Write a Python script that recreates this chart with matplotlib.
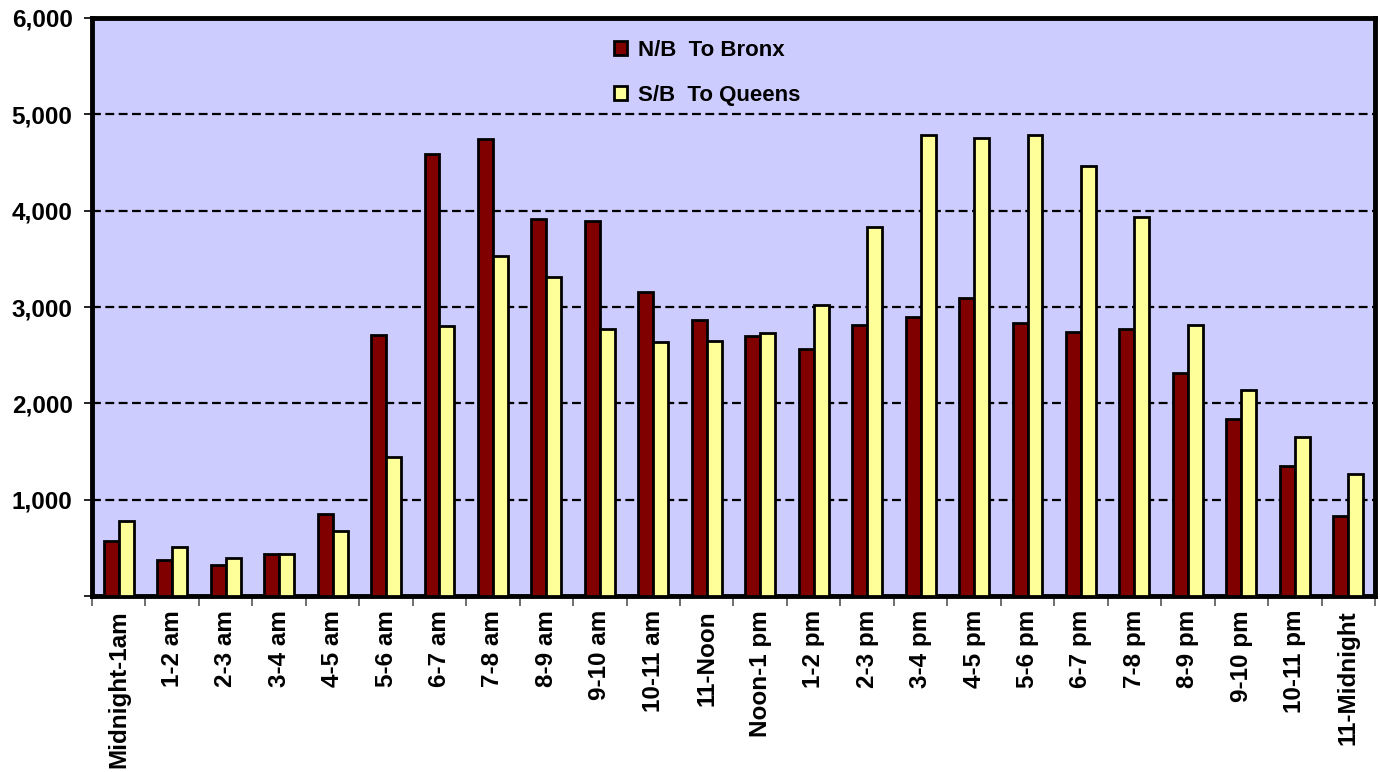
import numpy as np
import matplotlib.pyplot as plt
from matplotlib.ticker import FixedLocator

hours = ["Midnight-1am", "1-2 am", "2-3 am", "3-4 am", "4-5 am", "5-6 am",
         "6-7 am", "7-8 am", "8-9 am", "9-10 am", "10-11 am", "11-Noon",
         "Noon-1 pm", "1-2 pm", "2-3 pm", "3-4 pm", "4-5 pm", "5-6 pm",
         "6-7 pm", "7-8 pm", "8-9 pm", "9-10 pm", "10-11 pm", "11-Midnight"]

# N/B To Bronx
nb_bronx = [570, 375, 320, 435, 850, 2710, 4590, 4740, 3910, 3890, 3160, 2860,
            2700, 2560, 2810, 2900, 3090, 2830, 2740, 2770, 2320, 1840, 1350, 830]

# S/B To Queens
sb_queens = [775, 505, 395, 440, 670, 1445, 2800, 3530, 3310, 2770, 2640, 2650,
             2730, 3020, 3830, 4790, 4750, 4790, 4460, 3930, 2810, 2140, 1650, 1270]

y_ticks = [0, 1000, 2000, 3000, 4000, 5000, 6000]
y_tick_labels = ["", "1,000", "2,000", "3,000", "4,000", "5,000", "6,000"]

plt.rcParams['font.family'] = ['Liberation Sans', 'DejaVu Sans']
plt.rcParams['font.weight'] = 'bold'

fig = plt.figure(figsize=(13.8, 7.72), dpi=100)
ax = fig.add_axes([92 / 1380, 1 - 596 / 772, (1375 - 92) / 1380, (596 - 18) / 772])
ax.set_facecolor('#CCCCFF')

x = np.arange(len(hours))
barWidth = 0.28

ax.bar(x - barWidth / 2, nb_bronx, barWidth, color='#800000', edgecolor='black',
       linewidth=2, label="N/B  To Bronx", zorder=3)
ax.bar(x + barWidth / 2, sb_queens, barWidth, color='#FFFF99', edgecolor='black',
       linewidth=2, label="S/B  To Queens", zorder=3)

ax.set_xlim(-0.5, len(hours) - 0.5)
ax.set_ylim(0, 6000)

# dashed gridlines
ax.yaxis.grid(True, linestyle=(0, (4, 2)), color='black', linewidth=1.6, zorder=1)
ax.set_axisbelow(True)

ax.set_yticks(y_ticks)
ax.set_yticklabels(y_tick_labels, fontsize=17.5, fontweight='bold')
ax.tick_params(axis='y', direction='out', length=6, width=1.2, pad=8)

ax.set_xticks(x)
ax.set_xticklabels(hours, rotation=90, fontsize=17.5, fontweight='bold')
ax.tick_params(axis='x', which='major', length=0, pad=10)
ax.xaxis.set_minor_locator(FixedLocator(np.arange(-0.5, len(hours), 1)))
ax.tick_params(axis='x', which='minor', direction='out', length=7, width=1.2, color='#555555')

for side in ['left', 'top', 'right', 'bottom']:
    ax.spines[side].set_linewidth(3.5)
    ax.spines[side].set_color('black')

leg = ax.legend(loc='upper left', bbox_to_anchor=(598 / 1380, 1 - 24 / 772),
                bbox_transform=fig.transFigure, frameon=False, fontsize=16,
                handlelength=0.6, handleheight=0.6, handletextpad=0.5,
                labelspacing=1.1, borderpad=0.2)
for t in leg.get_texts():
    t.set_fontweight('bold')
for h in leg.legend_handles:
    h.set_linewidth(2)

fig.savefig('out.png', dpi=100)
